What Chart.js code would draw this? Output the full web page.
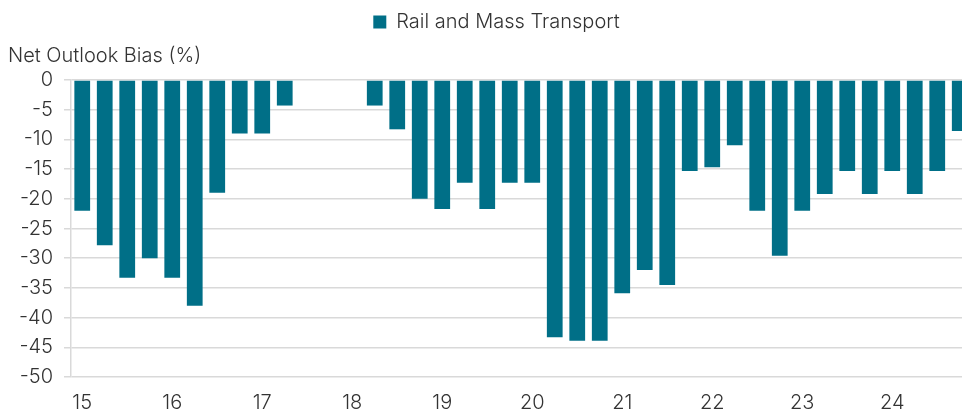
<!DOCTYPE html>
<html lang="en">
<head>
    <meta charset="UTF-8">
    <title>Rail and Mass Transport</title>
    <style>
        body { margin: 0; background: #fff; }
        /* the last bar runs off the right edge in the original, so the canvas is a bit wider than the window */
        #wrap { width: 962px; height: 417px; overflow: hidden; }
    </style>
</head>
<body>
    <div id="wrap">
        <canvas id="myChart" width="971" height="417"></canvas>
    </div>

    <script src="https://cdn.jsdelivr.net/npm/chart.js"></script>

    <script>
        // quarterly, 2015 Q1 .. 2024 Q4
        const years = ['15', '16', '17', '18', '19', '20', '21', '22', '23', '24'];
        const quarters = [];
        for (let y of years) {
            for (let q = 1; q <= 4; q++) {
                quarters.push(y + ' Q' + q);
            }
        }

        const railValues = [
            -22, -27.8, -33.3, -30,
            -33.3, -38, -19, -9,
            -9, -4.3, null, null,
            null, -4.3, -8.3, -20,
            -21.7, -17.3, -21.7, -17.3,
            -17.3, -43.3, -43.9, -43.9,
            -35.9, -32, -34.5, -15.3,
            -14.7, -11, -22, -29.6,
            -22, -19.2, -15.3, -19.2,
            -15.3, -19.2, -15.3, -8.6
        ];

        const yTicks = { min: -50, max: 0, step: 5 };

        const textColor = '#333333';
        const gridColor = '#d9d9d9';
        const fontFamily = 'Inter, "Noto Sans", sans-serif';
        const font = { family: fontFamily, size: 20, weight: 300 };

        // nudge the legend a little to the right, like the original
        const shiftLegend = {
            id: 'shiftLegend',
            afterLayout(chart) {
                if (chart.legend) {
                    chart.legend.left += 14;
                }
            }
        };

        const ctx = document.getElementById('myChart');

        new Chart(ctx, {
            type: 'bar',
            data: {
                labels: quarters,
                datasets: [{
                    label: 'Rail and Mass Transport',
                    data: railValues,
                    backgroundColor: '#006f87',
                    borderWidth: 0,
                    categoryPercentage: 1,
                    barPercentage: 0.7
                }]
            },
            options: {
                responsive: false,
                animation: false,
                layout: {
                    padding: { left: 8, right: 0, top: 4, bottom: 0 }
                },
                plugins: {
                    legend: {
                        display: true,
                        position: 'top',
                        labels: {
                            color: textColor,
                            font: font,
                            boxWidth: 13,
                            boxHeight: 13,
                            padding: 8
                        }
                    },
                    title: {
                        display: true,
                        text: 'Net Outlook Bias (%)',
                        align: 'start',
                        position: 'top',
                        weight: 500,
                        color: textColor,
                        font: font,
                        padding: { top: 2, bottom: 12 }
                    },
                    tooltip: { enabled: false }
                },
                scales: {
                    x: {
                        grid: { display: false, drawTicks: false },
                        border: { display: false },
                        afterFit: function (scale) {
                            scale.height = 40;
                            scale.paddingLeft = 0;
                            scale.paddingRight = 0;
                        },
                        ticks: {
                            autoSkip: false,
                            maxRotation: 0,
                            color: textColor,
                            font: font,
                            padding: 14,
                            callback: function (val, index) {
                                return index % 4 === 0 ? years[index / 4] : '';
                            }
                        }
                    },
                    y: {
                        min: yTicks.min,
                        max: yTicks.max,
                        grid: {
                            color: gridColor,
                            lineWidth: 1.5,
                            tickLength: 7
                        },
                        border: { display: true, color: gridColor, width: 1.5 },
                        ticks: {
                            stepSize: yTicks.step,
                            color: textColor,
                            font: font,
                            padding: 11
                        }
                    }
                }
            },
            plugins: [shiftLegend]
        });
    </script>
</body>
</html>
